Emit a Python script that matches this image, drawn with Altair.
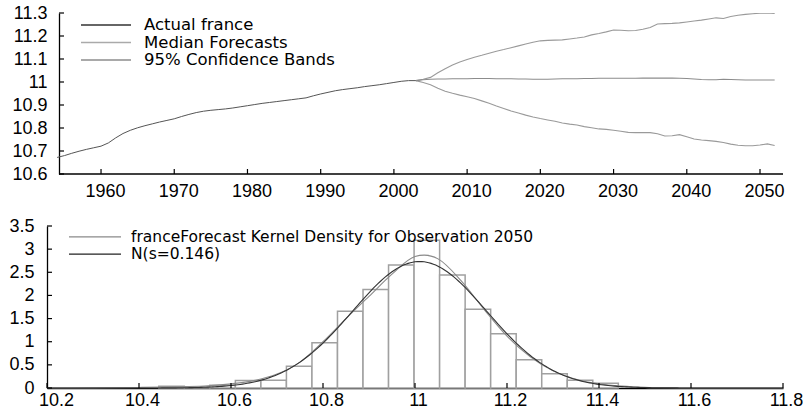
import altair as alt
import numpy as np
import pandas as pd

FONT = "Liberation Sans"
LEGEND_FONT = "DejaVu Sans"

# ---------------- top panel: france history and forecasts ----------------
actual_years = list(range(1954, 2004))
actual_values = [
    10.672, 10.680, 10.690, 10.699, 10.707, 10.714, 10.721, 10.735, 10.757, 10.776,
    10.790, 10.801, 10.810, 10.818, 10.826, 10.833, 10.840, 10.850, 10.859, 10.867,
    10.873, 10.877, 10.880, 10.883, 10.887, 10.892, 10.897, 10.902, 10.907, 10.911,
    10.915, 10.919, 10.923, 10.927, 10.931, 10.940, 10.948, 10.955, 10.962, 10.967,
    10.971, 10.975, 10.980, 10.984, 10.988, 10.993, 10.998, 11.003, 11.006, 11.006,
]
forecast_years = list(range(2003, 2053))
median_values = [
    11.006, 11.010, 11.012, 11.013, 11.013, 11.014, 11.014, 11.014, 11.015, 11.015,
    11.015, 11.014, 11.014, 11.014, 11.013, 11.013, 11.012, 11.012, 11.012, 11.013,
    11.014, 11.014, 11.014, 11.015, 11.015, 11.016, 11.016, 11.016, 11.016, 11.016,
    11.016, 11.017, 11.017, 11.017, 11.017, 11.017, 11.016, 11.015, 11.013, 11.011,
    11.010, 11.010, 11.012, 11.011, 11.010, 11.009, 11.009, 11.009, 11.009, 11.009,
]
upper_values = [
    11.006, 11.012, 11.020, 11.040, 11.058, 11.074, 11.087, 11.098, 11.108, 11.116,
    11.125, 11.134, 11.141, 11.149, 11.157, 11.165, 11.173, 11.179, 11.181, 11.182,
    11.183, 11.187, 11.191, 11.196, 11.205, 11.211, 11.218, 11.226, 11.225, 11.223,
    11.224, 11.229, 11.237, 11.252, 11.254, 11.255, 11.257, 11.261, 11.265, 11.269,
    11.274, 11.279, 11.276, 11.285, 11.290, 11.294, 11.297, 11.299, 11.300, 11.298,
]
lower_values = [
    11.006, 10.998, 10.988, 10.973, 10.960, 10.951, 10.943, 10.936, 10.928, 10.918,
    10.908, 10.896, 10.885, 10.874, 10.865, 10.856, 10.848, 10.841, 10.835, 10.829,
    10.822, 10.817, 10.813, 10.806, 10.801, 10.796, 10.794, 10.790, 10.786, 10.781,
    10.780, 10.780, 10.780, 10.775, 10.765, 10.766, 10.771, 10.762, 10.752, 10.748,
    10.745, 10.742, 10.737, 10.730, 10.725, 10.723, 10.723, 10.726, 10.731, 10.724,
]
year_ticks = [1960, 1970, 1980, 1990, 2000, 2010, 2020, 2030, 2040, 2050]
level_ticks = [10.6, 10.7, 10.8, 10.9, 11.0, 11.1, 11.2, 11.3]
top_legend = ["Actual france", "Median Forecasts", "95% Confidence Bands"]

# ---------------- bottom panel: density of the 2050 forecast ----------------
hist_edges = [
    10.443, 10.4985, 10.554, 10.6095, 10.665, 10.7205, 10.776, 10.8315, 10.887, 10.9425,
    10.998, 11.0535, 11.109, 11.1645, 11.220, 11.2755, 11.331, 11.3865, 11.442,
]
hist_heights = [
    0.04, 0.02, 0.06, 0.16, 0.17, 0.47, 0.98, 1.66, 2.13, 2.66,
    3.19, 2.44, 1.70, 1.17, 0.61, 0.31, 0.17, 0.10,
]
kde_x = [10.20, 10.30, 10.40, 10.45, 10.50, 10.55, 10.60, 10.65, 10.70, 10.75, 10.80,
         10.85, 10.90, 10.95, 11.00, 11.02, 11.05, 11.10, 11.15, 11.20, 11.25, 11.30,
         11.35, 11.40, 11.45, 11.50, 11.55, 11.60, 11.80]
kde_y = [0.0, 0.002, 0.012, 0.022, 0.032, 0.05, 0.09, 0.16, 0.30, 0.56, 1.00,
         1.50, 1.98, 2.46, 2.84, 2.87, 2.79, 2.32, 1.70, 1.12, 0.68, 0.37,
         0.19, 0.09, 0.04, 0.014, 0.004, 0.001, 0.0]
normal_mean = 11.01
normal_sd = 0.146
value_ticks = [10.2, 10.4, 10.6, 10.8, 11.0, 11.2, 11.4, 11.6, 11.8]
density_ticks = [0, 0.5, 1.0, 1.5, 2.0, 2.5, 3.0, 3.5]
bottom_legend = ["franceForecast Kernel Density for Observation 2050",
                 "N(s=" + str(normal_sd) + ")"]

# ---------------- styling ----------------
C_ACTUAL = "#555555"
C_MEDIAN = "#8c8c8c"
C_BAND = "#9a9a9a"
C_KDE = "#8a8a8a"
C_NORMAL = "#333333"
C_BAR = "#a0a0a0"

W, TOP_H, BOT_H = 736, 161, 162
INSET = 12          # the upper panel's vertical axis sits this far right of the lower one
PX_PER_YEAR = 7.322
YEAR_LO, YEAR_HI = 1954.26, 2053.14
TICK_LEN = 5


def axis(values, fmt, pad, **kw):
    return alt.Axis(values=values, format=fmt, tickSize=0, labelPadding=pad,
                    domainColor="black", domainWidth=1.3, grid=False,
                    labelFont=FONT, labelFontSize=18, labelColor="black",
                    labelOverlap=False, labelFlush=False, title=None, **kw)


# ---- top panel ----
act_df = pd.DataFrame({"year": actual_years, "value": actual_values})
med_df = pd.DataFrame({"year": forecast_years, "value": median_values})
band_df = pd.concat([
    pd.DataFrame({"year": forecast_years, "value": upper_values, "side": "upper"}),
    pd.DataFrame({"year": forecast_years, "value": lower_values, "side": "lower"}),
])

x_top = alt.X("year:Q",
              scale=alt.Scale(domain=[YEAR_LO - INSET / PX_PER_YEAR, YEAR_HI], nice=False, zero=False),
              axis=axis(year_ticks, "d", 8, labelOffset=4, domain=False))
y_top = alt.Y("value:Q", scale=alt.Scale(domain=[10.6, 11.3], nice=False, zero=False),
              axis=axis(level_ticks, "~g", 12, offset=-INSET))

band_lines = alt.Chart(band_df).mark_line(color=C_BAND, strokeWidth=1.1, clip=True).encode(
    x=x_top, y=y_top, detail="side:N")
median_line = alt.Chart(med_df).mark_line(color=C_MEDIAN, strokeWidth=1.1, clip=True).encode(
    x=x_top, y=y_top)
actual_line = alt.Chart(act_df).mark_line(color=C_ACTUAL, strokeWidth=1.0, clip=True).encode(
    x=x_top, y=y_top)

xt_df = pd.DataFrame({"year": year_ticks})
yt_df = pd.DataFrame({"value": level_ticks})
top_xaxis_line = alt.Chart(xt_df.head(1)).mark_rule(color="black", strokeWidth=1.3).encode(
    x=alt.value(INSET), x2=alt.value(W), y=alt.value(TOP_H))
top_xticks = alt.Chart(xt_df).mark_rule(color="black", strokeWidth=1.2).encode(
    x=x_top, y=alt.value(TOP_H), y2=alt.value(TOP_H - TICK_LEN))
top_yticks = alt.Chart(yt_df).mark_rule(color="black", strokeWidth=1.2).encode(
    y=y_top, x=alt.value(INSET), x2=alt.value(INSET + TICK_LEN))

top_leg_df = pd.DataFrame({
    "label": top_legend,
    "row": [12, 29.5, 47],
    "color": ["#333333", "#aaaaaa", "#8c8c8c"],
})
top_leg_lines = alt.Chart(top_leg_df).mark_rule(strokeWidth=1.3).encode(
    x=alt.value(INSET + 22), x2=alt.value(INSET + 72), y=alt.Y("row:Q", scale=None, axis=None),
    color=alt.Color("color:N", scale=None))
top_leg_text = alt.Chart(top_leg_df).mark_text(
    align="left", baseline="middle", font=LEGEND_FONT, fontSize=16.5, color="black").encode(
    x=alt.value(INSET + 85), y=alt.Y("row:Q", scale=None, axis=None), text="label:N")

top = alt.layer(band_lines, median_line, actual_line, top_xaxis_line, top_xticks, top_yticks,
                top_leg_lines, top_leg_text).properties(width=W, height=TOP_H)

# ---- bottom panel ----
hist_df = pd.DataFrame({"x": hist_edges[:-1], "x2": hist_edges[1:], "y": hist_heights})
kde_df = pd.DataFrame({"x": kde_x, "y": kde_y})
grid = np.linspace(value_ticks[0], value_ticks[-1], 321)
norm_df = pd.DataFrame({
    "x": grid,
    "y": np.exp(-0.5 * ((grid - normal_mean) / normal_sd) ** 2) / (normal_sd * np.sqrt(2 * np.pi)),
})

x_bot = alt.X("x:Q", scale=alt.Scale(domain=[10.2, 11.8], nice=False, zero=False),
              axis=axis(value_ticks, "~g", 3,
                        labelOffset=alt.condition("datum.value < 10.3", alt.value(9), alt.value(3))))
y_bot = alt.Y("y:Q", scale=alt.Scale(domain=[0, 3.5], nice=False),
              axis=axis(density_ticks, "~g", 13))

bars = alt.Chart(hist_df).mark_rect(fill="white", stroke=C_BAR, strokeWidth=1.5).encode(
    x=x_bot, x2="x2:Q", y=y_bot, y2=alt.datum(0))
kde_line = alt.Chart(kde_df).mark_line(color=C_KDE, strokeWidth=1.1, interpolate="monotone").encode(
    x=x_bot, y=y_bot)
norm_line = alt.Chart(norm_df).mark_line(color=C_NORMAL, strokeWidth=1.1).encode(
    x=x_bot, y=y_bot)

bxt_df = pd.DataFrame({"x": value_ticks})
byt_df = pd.DataFrame({"y": density_ticks})
bot_xticks = alt.Chart(bxt_df).mark_rule(color="black", strokeWidth=1.2).encode(
    x=x_bot, y=alt.value(BOT_H), y2=alt.value(BOT_H - TICK_LEN))
bot_yticks = alt.Chart(byt_df).mark_rule(color="black", strokeWidth=1.2).encode(
    y=y_bot, x=alt.value(0), x2=alt.value(TICK_LEN))

bot_leg_df = pd.DataFrame({
    "label": bottom_legend,
    "row": [10.8, 28.2],
    "color": [C_KDE, "#222222"],
})
bot_leg_lines = alt.Chart(bot_leg_df).mark_rule(strokeWidth=1.3).encode(
    x=alt.value(22), x2=alt.value(74), y=alt.Y("row:Q", scale=None, axis=None),
    color=alt.Color("color:N", scale=None))
bot_leg_text = alt.Chart(bot_leg_df).mark_text(
    align="left", baseline="middle", font=LEGEND_FONT, fontSize=15.5, color="black").encode(
    x=alt.value(84), y=alt.Y("row:Q", scale=None, axis=None), text="label:N")

bottom = alt.layer(bars, kde_line, norm_line, bot_xticks, bot_yticks,
                   bot_leg_lines, bot_leg_text).properties(width=W, height=BOT_H)

chart = alt.vconcat(top, bottom, spacing=17).properties(
    padding={"left": 8, "top": 4, "right": 0, "bottom": 0},
    background="white",
).configure_view(stroke=None)

chart.save("out.html", embed_options={"renderer": "svg", "actions": False})
